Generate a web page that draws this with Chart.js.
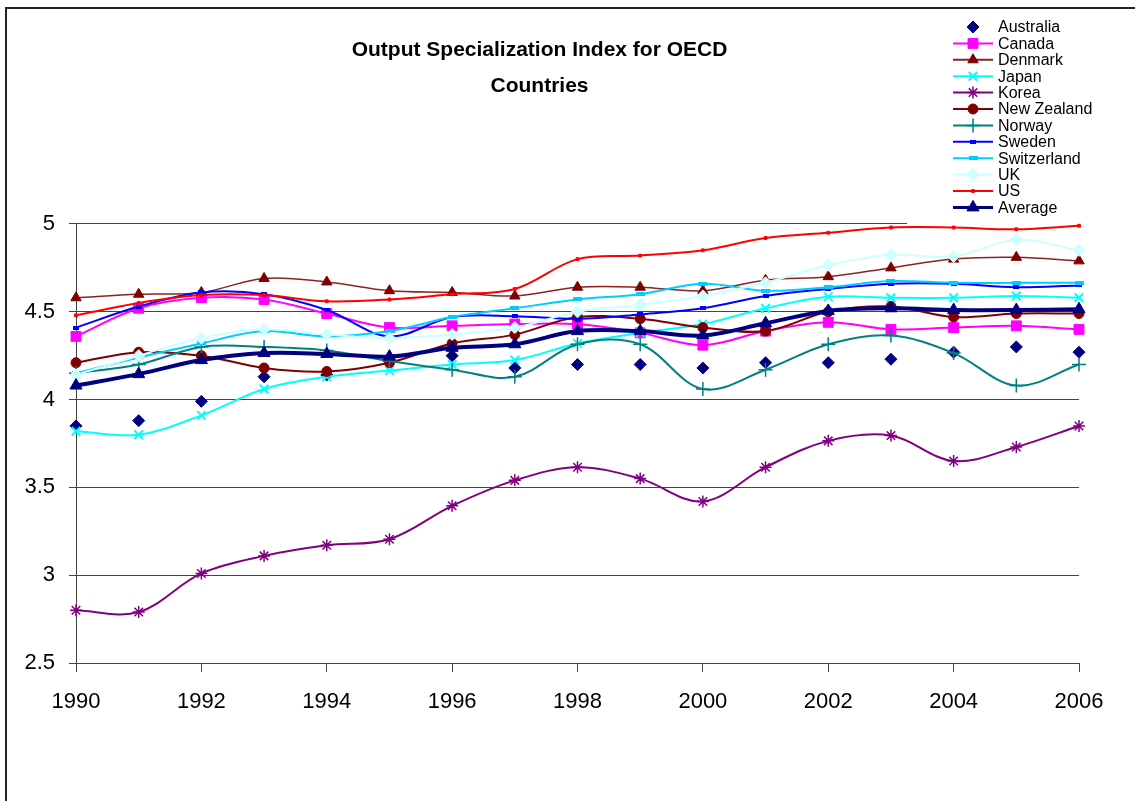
<!DOCTYPE html>
<html>
<head>
<meta charset="utf-8">
<title>Output Specialization Index for OECD Countries</title>
<script src="https://cdn.jsdelivr.net/npm/chart.js@4.4.1/dist/chart.umd.min.js"></script>
<style>
  html, body { margin: 0; padding: 0; background: #fff; overflow: hidden; }
  #wrap { position: relative; width: 1135px; height: 801px; }
  #frame {
    position: absolute; left: 5px; top: 7px; width: 1200px; height: 900px;
    border-left: 2px solid #222; border-top: 2px solid #222; pointer-events: none;
  }
</style>
</head>
<body>
<div id="wrap">
  <canvas id="oecdChart" width="1135" height="801"></canvas>
  <div id="frame"></div>
</div>
<script>
// 연도 / 국가별 값
const years = ["1990", "1991", "1992", "1993", "1994", "1995", "1996", "1997", "1998",
  "1999", "2000", "2001", "2002", "2003", "2004", "2005", "2006"]

const australia = [3.85, 3.88, 3.99, 4.13, 4.14, 4.22, 4.25, 4.18, 4.20, 4.20, 4.18, 4.21, 4.21, 4.23, 4.27, 4.30, 4.27]
const canada = [4.36, 4.52, 4.58, 4.57, 4.49, 4.41, 4.42, 4.43, 4.43, 4.38, 4.31, 4.39, 4.44, 4.40, 4.41, 4.42, 4.40]
const denmark = [4.58, 4.60, 4.61, 4.69, 4.67, 4.62, 4.61, 4.59, 4.64, 4.64, 4.62, 4.68, 4.70, 4.75, 4.80, 4.81, 4.79]
const japan = [3.82, 3.80, 3.91, 4.06, 4.13, 4.165, 4.20, 4.225, 4.32, 4.38, 4.43, 4.52, 4.585, 4.58, 4.58, 4.59, 4.58]
const korea = [2.80, 2.79, 3.01, 3.11, 3.17, 3.205, 3.395, 3.54, 3.615, 3.55, 3.42, 3.615, 3.765, 3.795, 3.65, 3.73, 3.85]
const newZealand = [4.21, 4.27, 4.25, 4.18, 4.16, 4.21, 4.32, 4.37, 4.47, 4.46, 4.41, 4.39, 4.50, 4.53, 4.47, 4.49, 4.49]
const norway = [4.15, 4.20, 4.30, 4.30, 4.28, 4.22, 4.17, 4.13, 4.315, 4.315, 4.06, 4.17, 4.315, 4.365, 4.265, 4.08, 4.20]
const sweden = [4.41, 4.53, 4.61, 4.60, 4.51, 4.36, 4.47, 4.475, 4.46, 4.485, 4.52, 4.59, 4.63, 4.66, 4.66, 4.64, 4.65]
const switzerland = [4.15, 4.24, 4.32, 4.39, 4.36, 4.39, 4.47, 4.52, 4.57, 4.60, 4.66, 4.62, 4.64, 4.675, 4.665, 4.665, 4.665]
const uk = [4.14, 4.25, 4.35, 4.40, 4.37, 4.35, 4.37, 4.41, 4.50, 4.54, 4.59, 4.665, 4.765, 4.825, 4.815, 4.91, 4.85]
const us = [4.48, 4.55, 4.595, 4.595, 4.56, 4.57, 4.60, 4.63, 4.80, 4.82, 4.85, 4.92, 4.95, 4.98, 4.98, 4.97, 4.99]
const average = [4.08, 4.145, 4.225, 4.265, 4.26, 4.245, 4.295, 4.315, 4.39, 4.39, 4.365, 4.435, 4.505, 4.52, 4.51, 4.51, 4.515]

const yTicks = [2.5, 3, 3.5, 4, 4.5, 5]

const FONT = "'Liberation Sans', Arial, sans-serif"
Chart.defaults.font.family = FONT

// 작은 막대 모양 마커 (Sweden, Switzerland)
function barMarker(w, h, color) {
  const c = document.createElement("canvas")
  c.width = w
  c.height = h
  const g = c.getContext("2d")
  g.fillStyle = color
  g.fillRect(0, 0, w, h)
  return c
}

function series(label, data, color, style, radius, width, extra) {
  return Object.assign({
    label: label,
    data: data,
    borderColor: color,
    backgroundColor: color,
    pointBackgroundColor: color,
    pointBorderColor: color,
    pointStyle: style,
    pointRadius: radius,
    pointBorderWidth: 1,
    borderWidth: width,
    tension: 0.35,
    fill: false,
    clip: false,
  }, extra || {})
}

const datasets = [
  series("Australia", australia, "#000080", "rectRot", 6, 0, { showLine: false }),
  series("Canada", canada, "#FF00FF", "rect", 7, 2),
  series("Denmark", denmark, "#800000", "triangle", 6, 1.5, { borderColor: "#8B2222" }),
  series("Japan", japan, "#00FFFF", "crossRot", 6, 2, { pointBorderWidth: 2 }),
  series("Korea", korea, "#800080", "star", 6, 2, { pointBorderWidth: 1.5 }),
  series("New Zealand", newZealand, "#800000", "circle", 5, 2),
  series("Norway", norway, "#008080", "cross", 7, 2, { pointBorderWidth: 1.5 }),
  series("Sweden", sweden, "#0000FF", barMarker(6, 4, "#0000FF"), 3, 2),
  series("Switzerland", switzerland, "#00CCFF", barMarker(9, 4, "#00CCFF"), 4, 2),
  series("UK", uk, "#CCFFFF", "rectRot", 6, 2),
  series("US", us, "#FF0000", "rect", 2, 2),
  series("Average", average, "#000080", "triangle", 7, 4),
]
// 뒤쪽 계열이 위에 그려지도록
datasets.forEach((d, i) => { d.order = datasets.length - i })

// 오른쪽 위 범례 (차트 영역 위에 겹쳐 그림)
const overlayLegend = {
  id: "overlayLegend",
  beforeDatasetsDraw(chart) {
    const ctx = chart.ctx
    ctx.save()
    ctx.fillStyle = "#fff"
    ctx.fillRect(907, 10, 228, 216)
    ctx.restore()
  },
  afterDraw(chart) {
    const ctx = chart.ctx
    ctx.save()
    chart.data.datasets.forEach((ds, i) => {
      const y = 27 + i * 16.4
      if (ds.showLine !== false) {
        ctx.strokeStyle = ds.borderColor
        ctx.lineWidth = ds.label === "Average" ? 3 : 2
        ctx.beginPath()
        ctx.moveTo(953, y)
        ctx.lineTo(993, y)
        ctx.stroke()
      }
      ctx.fillStyle = ds.pointBackgroundColor
      ctx.strokeStyle = ds.pointBorderColor
      ctx.lineWidth = ds.pointBorderWidth
      if (Chart.helpers && Chart.helpers.drawPoint) {
        Chart.helpers.drawPoint(ctx, {
          pointStyle: ds.pointStyle,
          radius: ds.pointRadius,
          borderWidth: ds.pointBorderWidth,
          rotation: 0,
        }, 973, y)
      }
      ctx.fillStyle = "#000"
      ctx.font = "16px " + FONT
      ctx.textAlign = "left"
      ctx.textBaseline = "middle"
      ctx.fillText(ds.label, 998, y + 1)
    })
    ctx.restore()
  },
}

new Chart(document.getElementById("oecdChart"), {
  type: "line",
  data: { labels: years, datasets: datasets },
  plugins: [overlayLegend],
  options: {
    responsive: false,
    devicePixelRatio: 1,
    animation: false,
    layout: { padding: { left: 0, right: 56, top: 0, bottom: 0 } },
    plugins: {
      legend: { display: false },
      tooltip: { enabled: false },
      title: {
        display: true,
        text: ["Output Specialization Index for OECD", "Countries"],
        color: "#000",
        font: { size: 21, weight: "bold", lineHeight: 1.714 },
        padding: { top: 32, bottom: 120 },
      },
    },
    scales: {
      x: {
        type: "category",
        offset: false,
        grid: {
          drawOnChartArea: false,
          drawTicks: true,
          tickLength: 9,
          tickColor: (c) => (c.index % 2 === 0 ? "#444" : "rgba(0,0,0,0)"),
        },
        border: { display: true, color: "#444", width: 1 },
        ticks: {
          autoSkip: false,
          maxRotation: 0,
          padding: 17,
          color: "#000",
          font: { size: 22 },
          callback: function (val, i) {
            return i % 2 === 0 ? this.getLabelForValue(val) : ""
          },
        },
        afterFit: (s) => { s.height = 138 },
      },
      y: {
        min: yTicks[0],
        max: yTicks[yTicks.length - 1],
        afterBuildTicks: (s) => { s.ticks = yTicks.map((v) => ({ value: v })) },
        ticks: {
          padding: 14,
          color: "#000",
          font: { size: 22 },
          callback: (v) => String(v),
        },
        grid: { color: "#444", tickColor: "#444", tickLength: 7 },
        border: { display: true, color: "#444", width: 1 },
        afterFit: (s) => { s.width = 76 },
      },
    },
  },
})
</script>
</body>
</html>
